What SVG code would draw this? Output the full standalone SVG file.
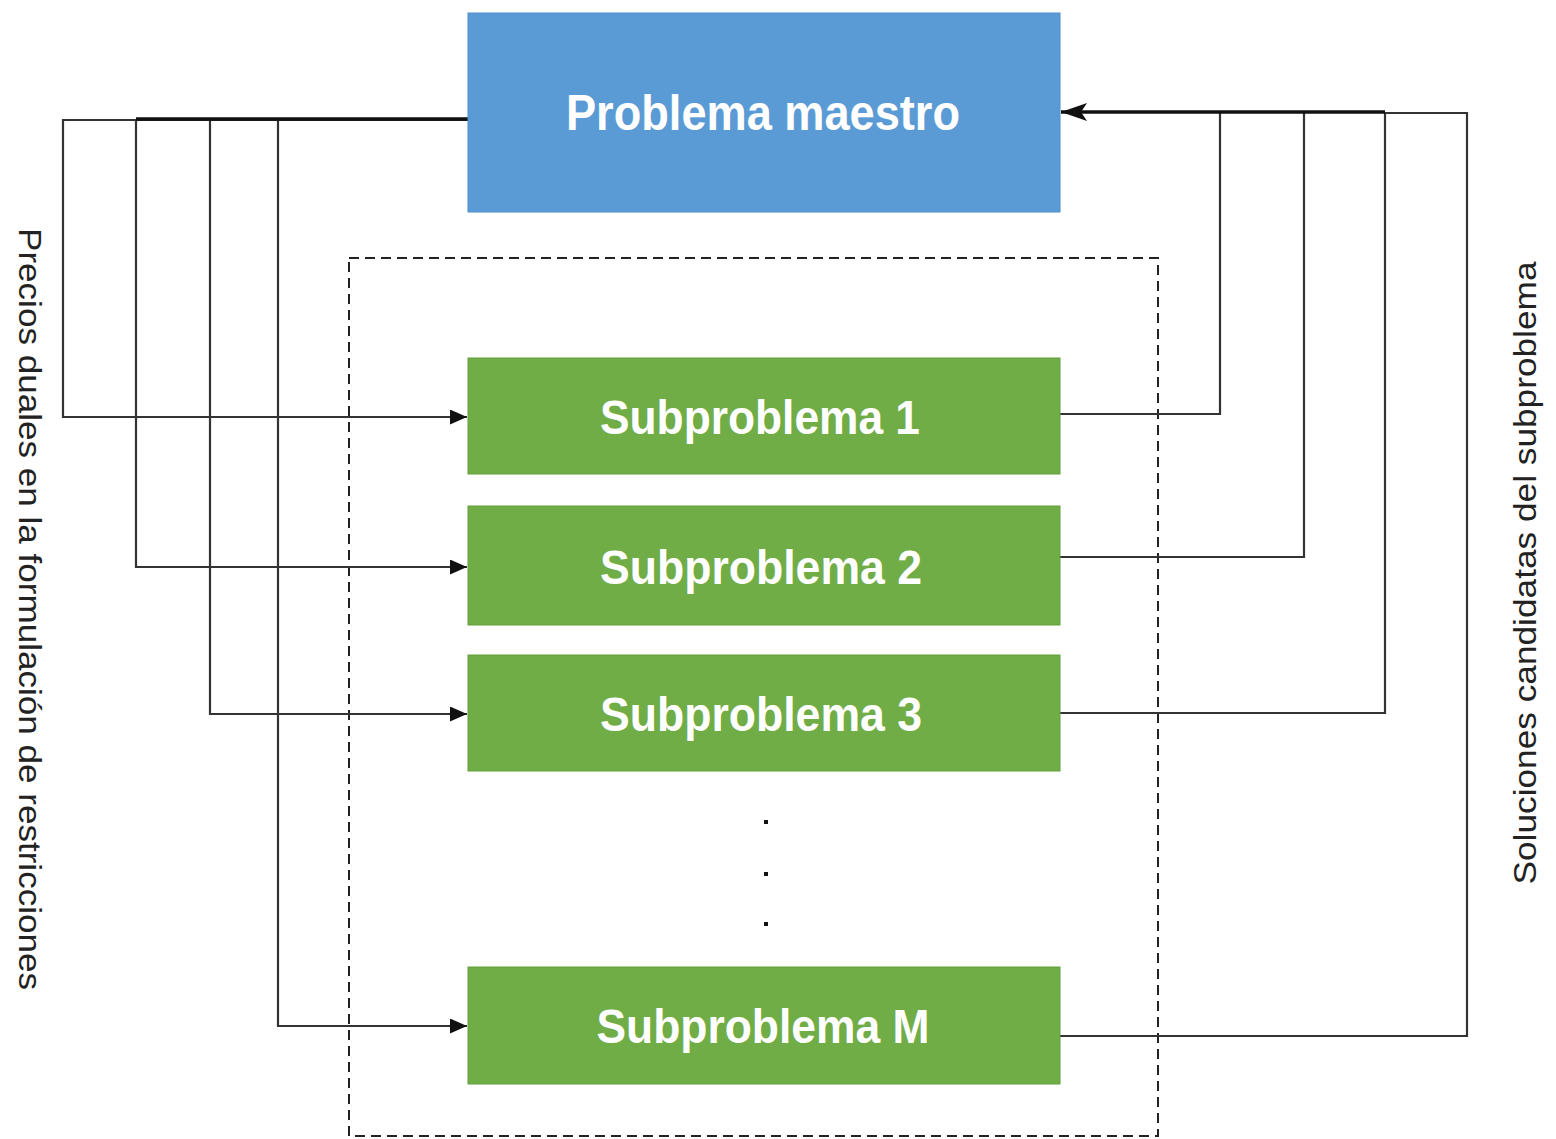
<svg xmlns="http://www.w3.org/2000/svg" width="1556" height="1139" viewBox="0 0 1556 1139">
<style>
.master{fill:#5b9bd5;stroke:#4f8fc9;stroke-width:1}
.sub{fill:#70ad47;stroke:#62a03c;stroke-width:1}
.lbl{font-family:"Liberation Sans",Arial,sans-serif;font-weight:bold;fill:#ffffff;text-anchor:middle;dominant-baseline:central}
.side{font-family:"Liberation Sans",Arial,sans-serif;fill:#222;text-anchor:middle;dominant-baseline:central;font-size:32px}
.ln{fill:none;stroke:#333;stroke-width:2.2}
.thick{fill:none;stroke:#111;stroke-width:3.5}
.dash{fill:none;stroke:#222;stroke-width:2;stroke-dasharray:10 6}
</style>
<defs>
<marker id="ah" markerWidth="17" markerHeight="15" refX="17" refY="7.5" orient="auto" markerUnits="userSpaceOnUse" viewBox="0 0 17 15">
<path d="M0,0 L17,7.5 L0,15 Z" fill="#111"/>
</marker>
<marker id="ahb" markerWidth="26" markerHeight="20" refX="26" refY="10" orient="auto" markerUnits="userSpaceOnUse" viewBox="0 0 26 20">
<path d="M0,1 L26,10 L0,19 L6,10 Z" fill="#111"/>
</marker>
</defs>
<rect class="dash" x="349" y="258" width="809" height="878"/>
<g id="connectors">
<polyline class="ln" points="470,120 63,120 63,417 467,417" marker-end="url(#ah)"/>
<polyline class="ln" points="136,120 136,567 467,567" marker-end="url(#ah)"/>
<polyline class="ln" points="210,120 210,714 467,714" marker-end="url(#ah)"/>
<polyline class="ln" points="278,120 278,1026 467,1026" marker-end="url(#ah)"/>
<line class="thick" x1="136" y1="119" x2="471" y2="119"/>
<circle cx="471" cy="118" r="2.5" fill="#111"/>
<polyline class="ln" points="1060,414 1220,414 1220,113"/>
<polyline class="ln" points="1056,557 1304,557 1304,113"/>
<polyline class="ln" points="1060,713 1385,713 1385,113"/>
<polyline class="ln" points="1060,1036 1467,1036 1467,113 1385,113"/>
<line class="thick" x1="1385" y1="112" x2="1061" y2="112" marker-end="url(#ahb)"/>
</g>
<g id="master">
<rect class="master" x="468" y="13" width="592" height="199"/>
<text class="lbl" x="763" y="113" font-size="50" textLength="394" lengthAdjust="spacingAndGlyphs">Problema maestro</text>
</g>
<g id="sub1">
<rect class="sub" x="468" y="358" width="592" height="116"/>
<text class="lbl" x="760" y="417" font-size="48" textLength="320" lengthAdjust="spacingAndGlyphs">Subproblema 1</text>
</g>
<g id="sub2">
<rect class="sub" x="468" y="506" width="592" height="119"/>
<text class="lbl" x="761" y="567" font-size="48" textLength="322" lengthAdjust="spacingAndGlyphs">Subproblema 2</text>
</g>
<g id="sub3">
<rect class="sub" x="468" y="655" width="592" height="116"/>
<text class="lbl" x="761" y="714" font-size="48" textLength="322" lengthAdjust="spacingAndGlyphs">Subproblema 3</text>
</g>
<g id="dots">
<rect x="764" y="820" width="4" height="4" fill="#111"/>
<rect x="764" y="872" width="4" height="4" fill="#111"/>
<rect x="764" y="922" width="4" height="4" fill="#111"/>
</g>
<g id="subM">
<rect class="sub" x="468" y="967" width="592" height="117"/>
<text class="lbl" x="763" y="1026" font-size="48" textLength="333" lengthAdjust="spacingAndGlyphs">Subproblema M</text>
</g>
<g id="label-left">
<text class="side" transform="translate(30,609) rotate(90)" textLength="762" lengthAdjust="spacingAndGlyphs">Precios duales en la formulación de restricciones</text>
</g>
<g id="label-right">
<text class="side" transform="translate(1525,573) rotate(-90)" textLength="623" lengthAdjust="spacingAndGlyphs">Soluciones candidatas del subproblema</text>
</g>
</svg>
